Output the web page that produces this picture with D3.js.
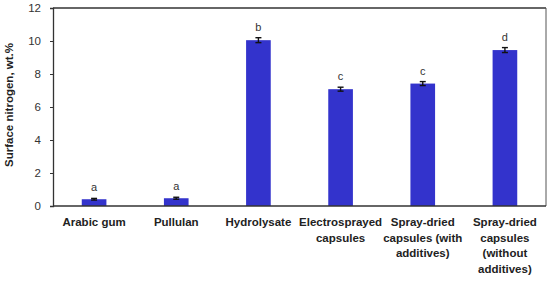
<!DOCTYPE html>
<html>
<head>
<meta charset="utf-8">
<script src="https://cdn.jsdelivr.net/npm/d3@7"></script>
<style>
  body { margin: 0; background: #fff; }
  text { font-family: "Liberation Sans", Arial, sans-serif; }
</style>
</head>
<body>
<div class="chart"></div>
<script>
// categories, split into label lines
const categories = [
  ["Arabic gum"],
  ["Pullulan"],
  ["Hydrolysate"],
  ["Electrosprayed", "capsules"],
  ["Spray-dried", "capsules (with", "additives)"],
  ["Spray-dried", "capsules", "(without", "additives)"]
];
const values = [0.41, 0.47, 10.05, 7.08, 7.42, 9.45];
const errors = [0.05, 0.06, 0.15, 0.12, 0.12, 0.15];
const letters = ["a", "a", "b", "c", "c", "d"];
const yTicks = [0, 2, 4, 6, 8, 10, 12];

// margin convention
const margin = { top: 8, right: 4, bottom: 75, left: 53 };
const width = 550 - margin.left - margin.right,
  height = 281 - margin.top - margin.bottom;

const svg = d3
  .select(".chart")
  .append("svg")
  .attr("width", 550)
  .attr("height", 281)
  .append("g")
  .attr("transform", "translate(" + margin.left + "," + margin.top + ")");

const x = d3
  .scaleBand()
  .domain(d3.range(categories.length))
  .range([0, width])
  .paddingInner(0.7)
  .paddingOuter(0.35);
const y = d3.scaleLinear().domain([0, 12]).range([height, 0]);

// frame (top + right)
svg.append("line")
  .attr("x1", 0).attr("x2", width)
  .attr("y1", 0).attr("y2", 0)
  .style("stroke", "#333").style("stroke-width", 1.3);
svg.append("line")
  .attr("x1", width).attr("x2", width)
  .attr("y1", 0).attr("y2", height)
  .style("stroke", "#555").style("stroke-width", 1);

// bars
svg.selectAll("rect.bar")
  .data(values)
  .enter()
  .append("rect")
  .attr("class", "bar")
  .attr("x", (d, i) => x(i))
  .attr("y", d => y(d))
  .attr("width", x.bandwidth())
  .attr("height", d => height - y(d))
  .style("fill", "#3333cc");

// error bars
const eb = svg.selectAll("g.err")
  .data(values)
  .enter()
  .append("g")
  .attr("class", "err")
  .style("stroke", "#111")
  .style("stroke-width", 1.4);
const cx = i => x(i) + x.bandwidth() / 2;
eb.append("line")
  .attr("x1", (d, i) => cx(i)).attr("x2", (d, i) => cx(i))
  .attr("y1", (d, i) => y(d - errors[i])).attr("y2", (d, i) => y(d + errors[i]));
eb.append("line")
  .attr("x1", (d, i) => cx(i) - 3).attr("x2", (d, i) => cx(i) + 3)
  .attr("y1", (d, i) => y(d + errors[i])).attr("y2", (d, i) => y(d + errors[i]));
eb.append("line")
  .attr("x1", (d, i) => cx(i) - 3).attr("x2", (d, i) => cx(i) + 3)
  .attr("y1", (d, i) => y(d - errors[i])).attr("y2", (d, i) => y(d - errors[i]));

// significance letters
svg.selectAll("text.letter")
  .data(values)
  .enter()
  .append("text")
  .attr("class", "letter")
  .attr("x", (d, i) => cx(i))
  .attr("y", (d, i) => y(d + errors[i]) - 7)
  .style("text-anchor", "middle")
  .style("font-size", "11px")
  .style("fill", "#333")
  .text((d, i) => letters[i]);

// y axis
const yAxis = d3.axisLeft(y).tickValues(yTicks).tickSizeOuter(0).tickSize(3).tickPadding(9);
svg.append("g")
  .attr("class", "axis y-axis")
  .call(yAxis)
  .call(g => g.selectAll("text").style("font-size", "11.5px").style("fill", "#333"))
  .call(g => g.select(".domain").style("stroke", "#333").style("stroke-width", 1.3))
  .call(g => g.selectAll(".tick line").style("stroke", "#333"));

// x axis
svg.append("line")
  .attr("x1", 0).attr("x2", width)
  .attr("y1", height).attr("y2", height)
  .style("stroke", "#333").style("stroke-width", 1.3);

const xl = svg.selectAll("text.xlabel")
  .data(categories)
  .enter()
  .append("text")
  .attr("class", "xlabel")
  .attr("x", (d, i) => cx(i))
  .attr("y", height + 20)
  .style("text-anchor", "middle")
  .style("font-size", "11.5px")
  .style("font-weight", "bold")
  .style("fill", "#222");
xl.selectAll("tspan")
  .data(d => d)
  .enter()
  .append("tspan")
  .attr("x", function () { return this.parentNode.getAttribute("x"); })
  .attr("dy", (d, j) => (j === 0 ? 0 : 15.5))
  .text(d => d);

// y title
svg.append("text")
  .attr("transform", "rotate(-90)")
  .attr("x", -height / 2 + 2)
  .attr("y", -40)
  .style("text-anchor", "middle")
  .style("font-size", "11.5px")
  .style("font-weight", "bold")
  .style("fill", "#222")
  .text("Surface nitrogen, wt.%");
</script>
</body>
</html>
